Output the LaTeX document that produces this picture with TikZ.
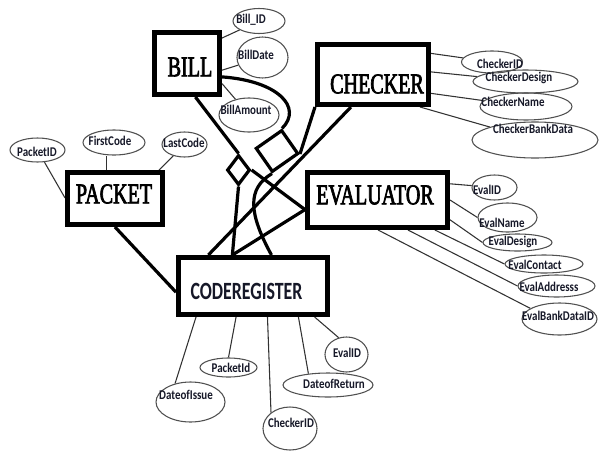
\documentclass[tikz,border=0pt]{standalone}
\usepackage{fontspec}
\usetikzlibrary{shapes.geometric,calc,backgrounds}
\newfontfamily\entfont[FakeStretch=0.70,FakeBold=2.4]{Liberation Serif}
\newfontfamily\regfont[FakeStretch=0.72]{Carlito}
\newfontfamily\attrfont[FakeStretch=0.82]{Carlito}
\definecolor{ink}{RGB}{22,24,40}
\definecolor{edgegray}{RGB}{80,80,80}
\definecolor{wiregray}{RGB}{50,50,50}

\begin{document}
\begin{tikzpicture}[x=0.75pt,y=-0.75pt,
  entity/.style={draw=black,line width=3.75pt,fill=white,inner sep=0pt},
  esize/.style 2 args={minimum width=#1*0.75pt,minimum height=#2*0.75pt},
  enttext/.style={font=\entfont\fontsize{21.5}{22}\selectfont,text=black,inner sep=0pt},
  regtext/.style={font=\regfont\bfseries\fontsize{18.6}{19}\selectfont,text=ink,inner sep=0pt},
  attr/.style={draw=edgegray,line width=0.8pt,ellipse,inner sep=0pt},
  attrtext/.style={font=\attrfont\bfseries\fontsize{10}{11}\selectfont,text=ink,inner sep=0pt},
  reldiamond/.style={draw=black,line width=2.4pt,fill=white,diamond,inner sep=0pt},
  relbox/.style={draw=black,line width=2.4pt,fill=white,rectangle,inner sep=0pt},
  link/.style={draw=black,line width=2.4pt},
  wire/.style={draw=wiregray,line width=0.8pt}]

\path[use as bounding box] (0,0) rectangle (599,450);

% entities
\node[entity,esize={65}{62}]  (bill)      at (187,63.5)  {};
\node[entity,esize={111}{60}] (checker)   at (373,74.5)  {};
\node[entity,esize={95}{52}]  (packet)    at (115,198.5) {};
\node[entity,esize={140}{55}] (evaluator) at (377.5,200) {};
\node[entity,esize={149}{57}] (codereg)   at (253,286)   {};

\node[enttext] (billt)      at (190,67)    {BILL};
\node[enttext] (checkert)   at (377,84)    {CHECKER};
\node[enttext] (packett)    at (114,194)   {PACKET};
\node[enttext] (evaluatort) at (375,195)   {EVALUATOR};
\node[regtext] (coderegt)   at (246.5,291) {CODEREGISTER};

% relationships
\node[reldiamond,esize={23}{30}] (smalldia) at (238.5,170) {};
\node[relbox,esize={31}{28},rotate=35] (bigdia) at (277,151) {};

% attribute ellipses
\node[attr,esize={52}{25}]  (billid)        at (259,21)     {};
\node[attr,esize={51}{41}]  (billdate)      at (262.5,57.5) {};
\node[attr,esize={60}{34}]  (billamt)       at (249,115)    {};
\node[attr,esize={61}{22}]  (checkerid)     at (492,62)     {};
\node[attr,esize={105}{23}] (checkerdesign) at (525.5,81.5) {};
\node[attr,esize={92}{27}]  (checkername)   at (526,106.5)  {};
\node[attr,esize={126}{36}] (checkerbank)   at (535,140)    {};
\node[attr,esize={55}{24}]  (packetid)      at (37.5,150)   {};
\node[attr,esize={62}{25}]  (firstcode)     at (114,142.5)  {};
\node[attr,esize={45}{25}]  (lastcode)      at (184.5,144.5){};
\node[attr,esize={45}{25}]  (evalid)        at (494.5,187.5){};
\node[attr,esize={59}{29}]  (evalname)      at (507.5,217.5){};
\node[attr,esize={69}{17}]  (evaldesign)    at (517.5,242.5){};
\node[attr,esize={78}{18}]  (evalcontact)   at (544,264)    {};
\node[attr,esize={77}{22}]  (evaladdr)      at (556.5,286)  {};
\node[attr,esize={75}{32}]  (evalbank)      at (559.5,319)  {};
\node[attr,esize={69}{40}]  (issue)         at (190.5,402)  {};
\node[attr,esize={57}{19}]  (pid)           at (228.5,367.5){};
\node[attr,esize={54}{43}]  (cid)           at (290,428.5)  {};
\node[attr,esize={90}{24}]  (dor)           at (328,385)    {};
\node[attr,esize={43}{35}]  (eid)           at (346.5,354.5){};

% attribute labels
\node[attrtext] (billidt)        at (251,20)  {Bill\_ID};
\node[attrtext] (billdatet)      at (256,55)  {BillDate};
\node[attrtext] (billamtt)       at (246,110) {BillAmount};
\node[attrtext] (checkeridt)     at (500,64)  {CheckerID};
\node[attrtext] (checkerdesignt) at (519,78)  {CheckerDesign};
\node[attrtext] (checkernamet)   at (513,102) {CheckerName};
\node[attrtext] (checkerbankt)   at (533,129) {CheckerBankData};
\node[attrtext] (packetidt)      at (37,152)  {PacketID};
\node[attrtext] (firstcodet)     at (110,141) {FirstCode};
\node[attrtext] (lastcodet)      at (184,143) {LastCode};
\node[attrtext] (evalidt)        at (487,190) {EvalID};
\node[attrtext] (evalnamet)      at (502,223) {EvalName};
\node[attrtext] (evaldesignt)    at (513,242) {EvalDesign};
\node[attrtext] (evalcontactt)   at (535,265) {EvalContact};
\node[attrtext] (evaladdrt)      at (549,287) {EvalAddresss};
\node[attrtext] (evalbankt)      at (558,316) {EvalBankDataID};
\node[attrtext] (issuet)         at (186,395) {DateofIssue};
\node[attrtext] (pidt)           at (231,368) {PacketId};
\node[attrtext] (cidt)           at (291,423) {CheckerID};
\node[attrtext] (dort)           at (334,384) {DateofReturn};
\node[attrtext] (eidt)           at (347,353) {EvalID};

\begin{pgfonlayer}{background}
  \fill[white] (0,0) rectangle (599,450);

  % relationship links
  \coordinate (evalin) at ($(evaluator.north west)!0.66!(evaluator.south west)$);
  \coordinate (crin)   at ($(codereg.north west)!0.366!(codereg.north east)$);
  \draw[link] ($(bill.south west)!0.62!(bill.south east)$) -- (smalldia.north);
  \draw[link] (smalldia.east) -- (evalin);
  \draw[link] (smalldia.south) -- (crin);
  \draw[link] (evalin) -- (crin);
  \draw[link] ($(bill.north east)!0.70!(bill.south east)$)
      .. controls +(56,4) and +(21,-21) .. (bigdia.north east);
  \draw[link] (bigdia.south east) -- (checker.south west);
  \draw[link] ($(checker.south west)!0.31!(checker.south east)$)
      -- ($(codereg.north west)!0.21!(codereg.north east)$);
  \draw[link] (bigdia.south west)
      .. controls +(-25,15) and +(-23,-42) .. ($(codereg.north west)!0.62!(codereg.north east)$);
  \draw[link] (packet.south) -- ($(codereg.north west)!0.6!(codereg.south west)$);

  % attribute wires
  \draw[wire] ($(bill.north east)!0.12!(bill.south east)$) -- (billid);
  \draw[wire] ($(bill.north east)!0.6!(bill.south east)$) -- (billdate);
  \draw[wire] ($(bill.north east)!0.8!(bill.south east)$) -- (billamt);

  \draw[wire] ($(checker.north east)!0.175!(checker.south east)$) -- (checkerid);
  \draw[wire] ($(checker.north east)!0.46!(checker.south east)$) -- (checkerdesign);
  \draw[wire] ($(checker.north east)!0.79!(checker.south east)$) -- (checkername);
  \draw[wire] ($(checker.south west)!0.905!(checker.south east)$) -- (checkerbank);

  \coordinate (fcin) at ($(packet.north west)!0.416!(packet.north east)$);
  \draw[wire] ($(packet.north west)!0.49!(packet.south west)$) -- (packetid);
  \draw[wire] (fcin) -- (fcin |- firstcode.south);
  \draw[wire] ($(packet.north west)!0.94!(packet.north east)$) -- (lastcode);

  \draw[wire] ($(evaluator.north east)!0.23!(evaluator.south east)$) -- (evalid);
  \draw[wire] ($(evaluator.north east)!0.5!(evaluator.south east)$) -- (evalname.west);
  \draw[wire] ($(evaluator.north east)!0.83!(evaluator.south east)$) -- (evaldesign.west);
  \draw[wire] ($(evaluator.south west)!0.896!(evaluator.south east)$) -- (evalcontact.west);
  \draw[wire] ($(evaluator.south west)!0.71!(evaluator.south east)$) -- (evaladdr.west);
  \draw[wire] ($(evaluator.south west)!0.504!(evaluator.south east)$) -- (evalbank.160);

  \draw[wire] ($(codereg.south west)!0.13!(codereg.south east)$) -- (issue.130);
  \draw[wire] ($(codereg.south west)!0.39!(codereg.south east)$) -- (pid.north);
  \draw[wire] ($(codereg.south west)!0.594!(codereg.south east)$) -- (cid.140);
  \draw[wire] ($(codereg.south west)!0.795!(codereg.south east)$) -- (dor.150);
  \draw[wire] ($(codereg.south west)!0.90!(codereg.south east)$) -- (eid.115);
\end{pgfonlayer}
\end{tikzpicture}
\end{document}
